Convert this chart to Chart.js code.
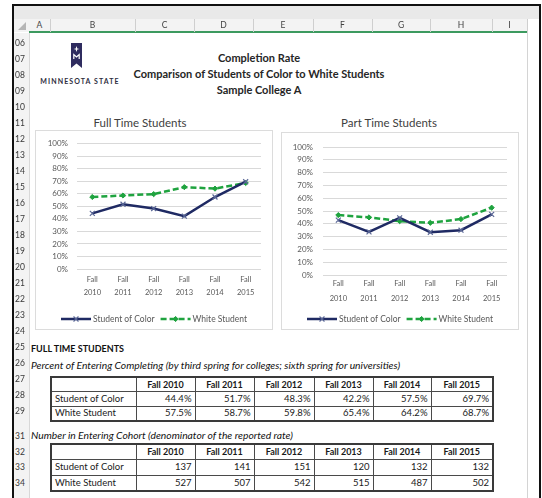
<!DOCTYPE html>
<html>
<head>
<meta charset="utf-8">
<script src="https://cdn.jsdelivr.net/npm/chart.js@4.4.1/dist/chart.umd.min.js"></script>
<style>
  body { margin: 0; background: #fff; font-family: Lato, "Open Sans", sans-serif; }
  #sheet { position: relative; width: 542px; height: 498px; overflow: hidden; background: #fff; }
  .abs { position: absolute; }
  #frame { left: 12px; top: 4px; width: 525px; height: 500px; border: 2px solid #111; border-bottom: none; }
  #ribbon { left: 14px; top: 6px; width: 525px; height: 13px; background: #e9e9e9; }
  #colhead { left: 14px; top: 19px; width: 513px; height: 13px; background: #f3f3f3; }
  #greenline { left: 29px; top: 31px; width: 498px; height: 2px; background: #3c9a5f; }
  #rowhead { left: 14px; top: 33px; width: 15px; height: 470px; background: #f3f3f3; border-right: 1px solid #d8d8d8; }
  #rightline { left: 527px; top: 19px; width: 1px; height: 480px; background: #d4d4d4; }
  .colsep { top: 19px; width: 1px; height: 13px; background: #cfcfcf; }
  .colletter { top: 19px; height: 13px; line-height: 13px; font-size: 8.5px; color: #444; text-align: center; }
  .rownum { left: 14px; width: 15px; font-size: 8.5px; color: #383838; text-align: left; padding-left: 1px; line-height: 10px; }
  .title { left: 0; width: 518px; text-align: center; font-weight: bold; font-size: 11px; color: #262626; line-height: 12px; }
  .ctitle { font-size: 11.5px; color: #404040; line-height: 13px; text-align: center; width: 160px; }
  .cframe { border: 1px solid #dcdcdc; box-sizing: border-box; }
  .sect { left: 31px; font-size: 9px; color: #111; line-height: 11px; white-space: nowrap; }
  .note { font-style: italic; font-size: 10.3px; }
  table.grid { position: absolute; left: 50px; border-collapse: collapse; table-layout: fixed; font-size: 9.5px; color: #1a1a1a; border: 2px solid #3a3a3a; }
  table.grid td, table.grid th { border: 1px solid #4a4a4a; padding: 0 3px; line-height: 10px; overflow: hidden; white-space: nowrap; }
  table.grid th { font-weight: bold; font-size: 9px; text-align: center; }
  table.grid td { text-align: right; }
  table.grid td.lbl { text-align: left; }
</style>
</head>
<body>
<div id="sheet">
  <div class="abs" id="ribbon"></div>
  <div class="abs" id="colhead"></div>
  <div class="abs" id="rowhead"></div>
  <div class="abs" id="greenline"></div>
  <div class="abs" id="rightline"></div>
  <div class="abs" id="frame"></div>
  <svg class="abs" style="left:17px;top:22px" width="10" height="9"><path d="M9 0 L9 8 L1 8 Z" fill="#b5b5b5"/></svg>

  <svg class="abs" style="left:71px;top:43px" width="11" height="25">
    <path d="M0 0 H11 V25 L5.5 20.5 L0 25 Z" fill="#2f2c5f"/>
    <path d="M5.5 3 L6.3 5.4 L8.6 6 L6.3 6.6 L5.5 9 L4.7 6.6 L2.4 6 L4.7 5.4 Z" fill="#fff"/>
    <path d="M2.8 16 V11.5 L5.5 14 L8.2 11.5 V16" stroke="#fff" stroke-width="1.2" fill="none"/>
  </svg>
  <div class="abs" style="left:34px;top:76px;width:92px;text-align:center;font-size:7px;font-weight:bold;letter-spacing:1.1px;color:#2e2e3e;line-height:10px">MINNESOTA STATE</div>

  <div class="abs title" style="top:52px">Completion Rate</div>
  <div class="abs title" style="top:68px">Comparison of Students of Color to White Students</div>
  <div class="abs title" style="top:84px">Sample College A</div>

  <div class="abs ctitle" style="left:60px;top:116px">Full Time Students</div>
  <div class="abs ctitle" style="left:309px;top:116px">Part Time Students</div>
  <div class="abs cframe" style="left:35px;top:130px;width:238px;height:200px"></div>
  <div class="abs cframe" style="left:281px;top:132px;width:238px;height:198px"></div>
  <canvas id="ftChart" class="abs" style="left:35px;top:130px" width="238" height="200"></canvas>
  <canvas id="ptChart" class="abs" style="left:281px;top:132px" width="238" height="198"></canvas>

  <div class="abs sect" style="top:343px;font-weight:bold">FULL TIME STUDENTS</div>
  <div class="abs sect note" style="top:360px">Percent of Entering Completing (by third spring for colleges; sixth spring for universities)</div>
  <table class="grid" id="rateTable" style="top:376px"></table>
  <div class="abs sect note" style="top:430px">Number in Entering Cohort (denominator of the reported rate)</div>
  <table class="grid" id="cohortTable" style="top:443px"></table>
</div>

<script>
  const years = ['Fall 2010', 'Fall 2011', 'Fall 2012', 'Fall 2013', 'Fall 2014', 'Fall 2015'];
  const seriesNames = ['Student of Color', 'White Student'];

  // full time completion rate (%)
  const ftColor = [44.4, 51.7, 48.3, 42.2, 57.5, 69.7];
  const ftWhite = [57.5, 58.7, 59.8, 65.4, 64.2, 68.7];
  // part time completion rate (%)
  const ptColor = [42.9, 33.7, 44.7, 33.4, 35.0, 47.4];
  const ptWhite = [46.8, 45.0, 42.1, 40.8, 43.7, 52.6];
  // entering cohort size
  const cohortColor = [137, 141, 151, 120, 132, 132];
  const cohortWhite = [527, 507, 542, 515, 487, 502];

  const yMin = 0, yMax = 100, yStep = 10;
  const colLetters = ['A', 'B', 'C', 'D', 'E', 'F', 'G', 'H', 'I'];
  const rowNums = ['06', '07', '08', '09', '10', '11', '12', '13', '14', '15', '16', '17', '18', '19', '20',
    '21', '22', '23', '24', '25', '26', '27', '28', '29', '31', '32', '33', '34'];

  const navy = '#1f2a63';
  const green = '#1fa33f';
  const FONT = 'Lato, "Open Sans", sans-serif';

  // spreadsheet chrome
  const sheet = document.getElementById('sheet');
  const colEdges = [29, 50, 135, 194, 253, 313, 372, 430, 492, 527];
  colLetters.forEach((l, i) => {
    const d = document.createElement('div');
    d.className = 'abs colletter';
    d.style.left = colEdges[i] + 'px';
    d.style.width = (colEdges[i + 1] - colEdges[i]) + 'px';
    d.textContent = l;
    sheet.appendChild(d);
    const s = document.createElement('div');
    s.className = 'abs colsep';
    s.style.left = colEdges[i + 1] + 'px';
    sheet.appendChild(s);
  });
  rowNums.forEach((r) => {
    const n = Number(r);
    const cy = n <= 29 ? 42.7 + (n - 6) * 16.03 : 436 + (n - 31) * 15.7;
    const d = document.createElement('div');
    d.className = 'abs rownum';
    d.style.top = (cy - 5) + 'px';
    d.textContent = r;
    sheet.appendChild(d);
  });

  // tables
  const colWidths = [85, 59, 59, 60, 59, 58, 62];
  function fillTable(id, rows, rowH, fmt) {
    const t = document.getElementById(id);
    const cg = document.createElement('colgroup');
    colWidths.forEach((w) => { const c = document.createElement('col'); c.style.width = w + 'px'; cg.appendChild(c); });
    t.appendChild(cg);
    let html = '<tr style="height:' + rowH + 'px"><th></th>' + years.map((y) => '<th>' + y + '</th>').join('') + '</tr>';
    rows.forEach((vals, i) => {
      html += '<tr style="height:' + rowH + 'px"><td class="lbl">' + seriesNames[i] + '</td>' +
        vals.map((v) => '<td>' + fmt(v) + '</td>').join('') + '</tr>';
    });
    t.insertAdjacentHTML('beforeend', html);
  }
  fillTable('rateTable', [ftColor, ftWhite], 14.5, (v) => v.toFixed(1) + '%');
  fillTable('cohortTable', [cohortColor, cohortWhite], 15.5, (v) => String(v));

  // Excel-style legend: line sample with the marker in the middle, then text
  const excelLegend = {
    id: 'excelLegend',
    afterDraw(chart, args, opts) {
      const ctx = chart.ctx;
      const lineLen = 30, gapText = 2, gapItem = 6;
      ctx.save();
      ctx.font = '8.5px ' + FONT;
      const items = chart.data.datasets.map((ds) => ({ ds, w: ctx.measureText(ds.label).width }));
      const total = items.reduce((s, it) => s + lineLen + gapText + it.w, 0) + gapItem * (items.length - 1);
      let x = (chart.width - total) / 2;
      const y = opts.y;
      items.forEach(({ ds, w }) => {
        ctx.strokeStyle = ds.borderColor;
        ctx.lineWidth = ds.borderWidth;
        ctx.setLineDash(ds.borderDash || []);
        ctx.beginPath();
        ctx.moveTo(x, y);
        ctx.lineTo(x + lineLen, y);
        ctx.stroke();
        ctx.setLineDash([]);
        ctx.fillStyle = ds.pointBackgroundColor;
        ctx.strokeStyle = ds.pointBorderColor;
        ctx.lineWidth = ds.pointBorderWidth;
        Chart.helpers.drawPoint(ctx, { pointStyle: ds.pointStyle, radius: ds.pointRadius, borderWidth: ds.pointBorderWidth, rotation: 0 }, x + lineLen / 2, y);
        ctx.fillStyle = '#595959';
        ctx.textBaseline = 'middle';
        ctx.textAlign = 'left';
        ctx.fillText(ds.label, x + lineLen + gapText, y);
        x += lineLen + gapText + w + gapItem;
      });
      ctx.restore();
    }
  };

  function makeChart(id, colorVals, whiteVals, lay) {
    return new Chart(document.getElementById(id), {
      type: 'line',
      data: {
        labels: years.map((y) => y.split(' ')),
        datasets: [{
          label: seriesNames[0],
          data: colorVals,
          borderColor: navy,
          borderWidth: 2.5,
          pointStyle: 'crossRot',
          pointRadius: 3.5,
          pointBorderColor: '#5a6796',
          pointBackgroundColor: '#5a6796',
          pointBorderWidth: 1.2,
          tension: 0
        }, {
          label: seriesNames[1],
          data: whiteVals,
          borderColor: green,
          borderWidth: 2.5,
          borderDash: [6, 3],
          pointStyle: 'rectRot',
          pointRadius: 2.6,
          pointBorderColor: green,
          pointBackgroundColor: green,
          pointBorderWidth: 1,
          tension: 0
        }]
      },
      options: {
        responsive: false,
        animation: false,
        devicePixelRatio: 1,
        layout: { padding: { top: lay.top, right: 12, bottom: lay.bottom, left: 0 } },
        plugins: {
          legend: { display: false },
          tooltip: { enabled: false },
          excelLegend: { y: lay.legendY }
        },
        scales: {
          x: {
            offset: true,
            grid: { display: false, drawTicks: false },
            border: { display: false },
            afterFit: (s) => { s.height = 34; },
            ticks: { color: '#595959', padding: lay.xPad, maxRotation: 0, autoSkip: false,
              font: { family: FONT, size: 7.5, lineHeight: lay.xLine + 'px' } }
          },
          y: {
            min: yMin, max: yMax,
            grid: { color: '#d9d9d9', drawTicks: false },
            border: { display: false },
            afterFit: (s) => { s.width = 42; },
            ticks: { stepSize: yStep, autoSkip: false, color: '#595959', padding: lay.yPad,
              font: { family: FONT, size: 8 }, callback: (v) => v + '%' }
          }
        }
      },
      plugins: [excelLegend]
    });
  }

  makeChart('ftChart', ftColor, ftWhite, { top: 12, bottom: 27, xPad: 4.5, xLine: 13, yPad: 9, legendY: 189 });
  makeChart('ptChart', ptColor, ptWhite, { top: 15, bottom: 21, xPad: 1.5, xLine: 15, yPad: 10, legendY: 187 });
</script>
</body>
</html>
